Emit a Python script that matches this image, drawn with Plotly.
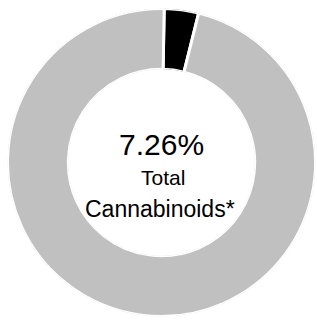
import plotly.graph_objects as go

labels = ["Highlighted cannabinoid", "Remainder"]
values = [3.6, 96.4]
colors = ["#000000", "#c0c0c0"]
center_value = "7.26%"
center_line2 = "Total"
center_line3 = "Cannabinoids*"

W, H = 317, 321
cx, cy, r = 161.5, 162.5, 154

# angular extents derived from the values
total = sum(values)
widths = [v / total * 360 for v in values]
starts = []
acc = 0
for w in widths:
    starts.append(acc)
    acc += w
thetas = [s + w / 2 for s, w in zip(starts, widths)]

fig = go.Figure(go.Barpolar(
    r=[1] * len(values),
    theta=thetas,
    width=widths,
    base=0,
    text=labels,
    hoverinfo="text",
    marker=dict(color=colors, line=dict(color="white", width=3)),
    showlegend=False,
))

font_family = "Liberation Sans, Arial, Helvetica, sans-serif"
fig.add_annotation(text=center_value, x=cx / W, y=1 - 144 / H, xref="paper", yref="paper",
                   showarrow=False, font=dict(size=30, color="black", family=font_family),
                   xanchor="center", yanchor="middle")
fig.add_annotation(text=center_line2, x=162.5 / W, y=1 - 178 / H, xref="paper", yref="paper",
                   showarrow=False, font=dict(size=21, color="black", family=font_family),
                   xanchor="center", yanchor="middle")
fig.add_annotation(text=center_line3, x=160 / W, y=1 - 208.5 / H, xref="paper", yref="paper",
                   showarrow=False, font=dict(size=23, color="black", family=font_family),
                   xanchor="center", yanchor="middle")

fig.update_layout(
    width=W, height=H,
    margin=dict(l=0, r=0, t=0, b=0),
    paper_bgcolor="white",
    polar=dict(
        domain=dict(x=[max(0, (cx - r) / W), min(1, (cx + r) / W)],
                    y=[max(0, (H - cy - r) / H), min(1, (H - cy + r) / H)]),
        hole=0.605,
        bgcolor="white",
        radialaxis=dict(range=[0, 1], visible=False, showgrid=False),
        angularaxis=dict(visible=False, showgrid=False, rotation=89, direction="clockwise"),
    ),
    bargap=0,
)
fig.write_html("out.html", config={"displayModeBar": False},
               post_script="document.body.style.margin='0';")
